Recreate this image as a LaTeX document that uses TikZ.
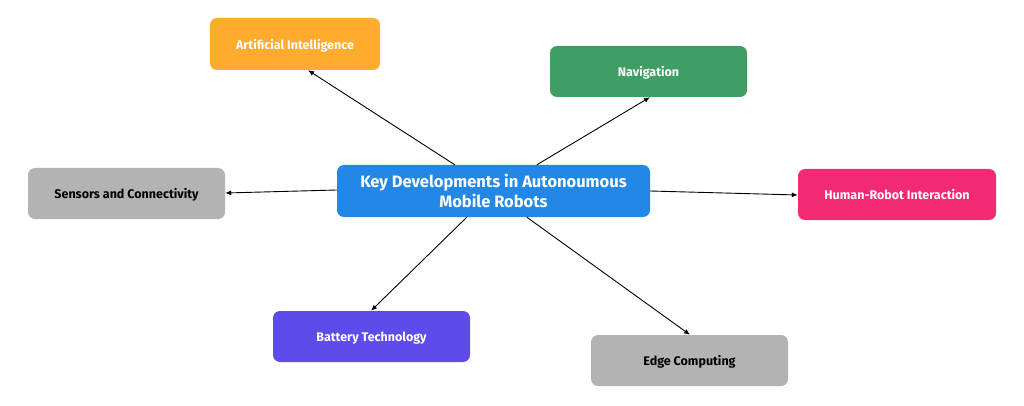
\documentclass[tikz,border=0pt]{standalone}
\usepackage{fontspec}
\setmainfont{Fira Sans}
\usetikzlibrary{calc,arrows.meta}
\begin{document}
\begin{tikzpicture}[x=1pt,y=-1pt,
  box/.style={rounded corners=7pt,draw=none,font=\bfseries\fontsize{12.5}{15}\selectfont,text=white,align=center,text depth=0pt},
  conn/.style={-{Latex[length=6pt,width=5pt]},line width=0.9pt}]
\useasboundingbox (0,0) rectangle (1024,406);
\definecolor{cblue}{HTML}{2387E6}
\definecolor{corange}{HTML}{FFAB2E}
\definecolor{cgreen}{HTML}{3E9E63}
\definecolor{cgray}{HTML}{B3B3B3}
\definecolor{cpink}{HTML}{F22A73}
\definecolor{cpurple}{HTML}{5F4BEA}
\node[box,fill=cblue,minimum width=313pt,minimum height=52pt,font=\bfseries\fontsize{16.5}{20}\selectfont] (c) at (493.5,191) {Key Developments in Autonoumous\\Mobile Robots};
\node[box,fill=corange,minimum width=170pt,minimum height=52pt] (ai) at (295,44) {Artificial Intelligence};
\node[box,fill=cgreen,minimum width=197pt,minimum height=51pt] (nav) at (648.5,71.5) {Navigation};
\node[box,fill=cgray,text=black,minimum width=197pt,minimum height=51pt] (sen) at (126.5,193.5) {Sensors and Connectivity};
\node[box,fill=cpink,minimum width=198pt,minimum height=51pt] (hri) at (897,194.5) {Human-Robot Interaction};
\node[box,fill=cpurple,minimum width=197pt,minimum height=51pt] (bat) at (371.5,336.5) {Battery Technology};
\node[box,fill=cgray,text=black,minimum width=197pt,minimum height=51pt] (edge) at (689.5,360.5) {Edge Computing};
\draw[conn] ($(c.north west)+(118,0)$) -- ($(ai.south)+(13,0)$);
\draw[conn] ($(c.north west)+(200,0)$) -- ($(nav.south)+(1.5,0)$);
\draw[conn] ($(c.west)+(0,-1)$) -- ($(sen.east)+(0,-0.5)$);
\draw[conn] (c.east) -- ($(hri.west)+(0,0.5)$);
\draw[conn] ($(c.south west)+(130,0)$) -- ($(bat.north)+(-0.5,0)$);
\draw[conn] ($(c.south west)+(190,0)$) -- ($(edge.north)+(0.5,0)$);
\end{tikzpicture}
\end{document}
